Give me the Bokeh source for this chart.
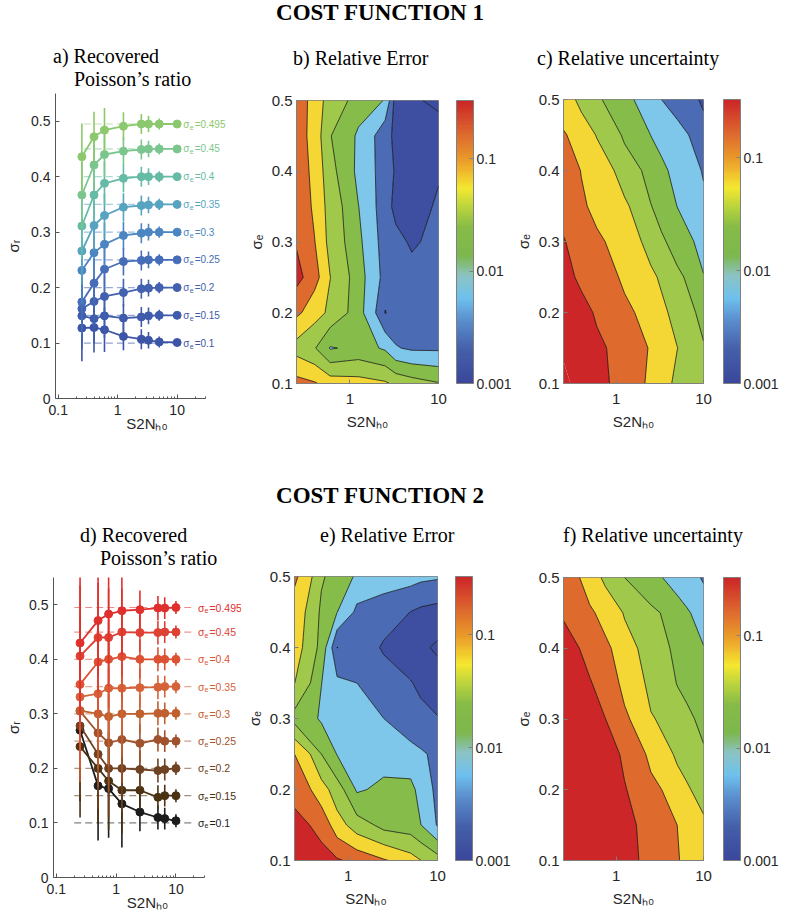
import numpy as np
from bokeh.plotting import figure
from bokeh.models import (ColorBar, LogColorMapper, FixedTicker, Label, Div,
                          Range1d, CustomJSTickFormatter)
from bokeh.layouts import column, row
from bokeh.embed import file_html
from bokeh.resources import INLINE

SANS = "Liberation Sans"
SERIF = "Liberation Serif"
TXT = "#262626"

# ---------------------------------------------------------------- data
sigma_e = [0.1, 0.15, 0.2, 0.25, 0.3, 0.35, 0.4, 0.45, 0.495]
sigma_e_text = ["0.1", "0.15", "0.2", "0.25", "0.3", "0.35", "0.4", "0.45", "0.495"]

s2n_cf1 = [0.25, 0.4, 0.6, 1.25, 2.5, 3.3, 5, 10]
s2n_cf2 = [0.25, 0.5, 0.75, 1.25, 2.5, 5, 6.5, 10]

recovered_cf1 = [
    [0.127, 0.128, 0.124, 0.112, 0.107, 0.105, 0.102, 0.101],
    [0.149, 0.144, 0.149, 0.145, 0.147, 0.149, 0.150, 0.150],
    [0.162, 0.175, 0.184, 0.191, 0.198, 0.199, 0.200, 0.200],
    [0.174, 0.208, 0.233, 0.247, 0.249, 0.250, 0.250, 0.250],
    [0.231, 0.263, 0.278, 0.294, 0.298, 0.300, 0.300, 0.300],
    [0.266, 0.312, 0.330, 0.345, 0.348, 0.349, 0.350, 0.350],
    [0.311, 0.367, 0.388, 0.397, 0.400, 0.400, 0.400, 0.400],
    [0.367, 0.421, 0.440, 0.446, 0.449, 0.450, 0.450, 0.450],
    [0.436, 0.472, 0.484, 0.491, 0.495, 0.495, 0.495, 0.495],
]
err_cf1 = [0.06, 0.045, 0.04, 0.025, 0.018, 0.015, 0.010, 0.005]

recovered_cf2 = [
    [0.270, 0.168, 0.163, 0.135, 0.120, 0.110, 0.108, 0.104],
    [0.240, 0.200, 0.177, 0.160, 0.160, 0.147, 0.150, 0.150],
    [0.278, 0.226, 0.200, 0.200, 0.198, 0.196, 0.198, 0.200],
    [0.305, 0.265, 0.247, 0.253, 0.246, 0.253, 0.250, 0.250],
    [0.306, 0.300, 0.295, 0.300, 0.300, 0.301, 0.301, 0.301],
    [0.331, 0.337, 0.347, 0.347, 0.348, 0.349, 0.350, 0.350],
    [0.354, 0.395, 0.400, 0.405, 0.400, 0.400, 0.400, 0.400],
    [0.406, 0.440, 0.440, 0.450, 0.449, 0.449, 0.450, 0.450],
    [0.430, 0.471, 0.483, 0.489, 0.491, 0.494, 0.494, 0.495],
]
err_cf2 = [0.13, 0.10, 0.09, 0.08, 0.035, 0.022, 0.020, 0.012]

# contour grids: rows = sigma_grid, columns = s2n grid; values = log10(relative value)
sigma_grid = [0.1, 0.15, 0.2, 0.25, 0.3, 0.35, 0.4, 0.45, 0.5]

log_rel_error_cf1 = [
    [-1.00, -1.08, -1.25, -1.30, -1.38, -1.50, -1.60, -1.72],
    [-1.55, -1.72, -2.08, -1.95, -2.10, -2.35, -2.42, -2.42],
    [-1.05, -1.30, -1.50, -1.95, -2.70, -2.55, -2.55, -2.50],
    [-0.70, -1.00, -1.42, -1.95, -2.50, -2.55, -2.60, -2.50],
    [-0.82, -1.10, -1.55, -2.00, -2.55, -2.62, -2.72, -2.58],
    [-0.90, -1.17, -1.58, -2.05, -2.60, -2.75, -2.86, -2.61],
    [-0.95, -1.20, -1.66, -2.15, -2.55, -2.72, -2.88, -2.74],
    [-0.95, -1.26, -1.73, -2.12, -2.60, -2.75, -2.88, -2.78],
    [-0.95, -1.24, -1.60, -1.86, -2.08, -2.85, -2.95, -3.10],
]
log_rel_unc_cf1 = [
    [-0.43, -0.58, -0.71, -0.94, -1.18, -1.31, -1.50, -1.65],
    [-0.51, -0.63, -0.74, -0.94, -1.14, -1.25, -1.42, -1.71],
    [-0.57, -0.71, -0.83, -1.04, -1.27, -1.36, -1.54, -1.86],
    [-0.72, -0.85, -0.96, -1.17, -1.37, -1.47, -1.67, -2.04],
    [-0.78, -0.93, -1.06, -1.28, -1.54, -1.69, -1.89, -2.19],
    [-0.88, -1.07, -1.19, -1.38, -1.73, -1.87, -2.06, -2.30],
    [-0.96, -1.12, -1.27, -1.56, -1.88, -2.00, -2.15, -2.40],
    [-1.08, -1.27, -1.44, -1.80, -2.06, -2.14, -2.26, -2.57],
    [-1.29, -1.51, -1.70, -1.98, -2.25, -2.37, -2.51, -2.74],
]
log_rel_error_cf2 = [
    [-0.55, -0.68, -0.76, -0.90, -1.08, -1.30, -1.42, -1.60],
    [-0.70, -0.90, -1.30, -1.60, -1.85, -1.90, -2.05, -2.40],
    [-0.90, -1.30, -1.60, -2.10, -1.95, -1.95, -2.20, -2.45],
    [-1.11, -1.74, -2.07, -2.25, -2.25, -2.30, -2.33, -2.45],
    [-1.85, -2.10, -2.25, -2.30, -2.37, -2.50, -2.60, -2.67],
    [-1.42, -2.05, -2.30, -2.37, -2.55, -2.67, -2.75, -2.85],
    [-1.30, -1.85, -2.69, -2.55, -2.72, -2.85, -2.95, -3.05],
    [-1.25, -1.80, -2.05, -2.45, -2.55, -2.69, -2.75, -2.80],
    [-1.05, -1.70, -1.90, -2.10, -2.20, -2.25, -2.30, -2.33],
]
log_rel_unc_cf2 = [
    [-0.50, -0.60, -0.66, -0.74, -0.86, -1.09, -1.18, -1.32],
    [-0.52, -0.60, -0.66, -0.74, -0.89, -1.11, -1.20, -1.36],
    [-0.55, -0.60, -0.66, -0.78, -1.02, -1.29, -1.39, -1.57],
    [-0.58, -0.62, -0.69, -0.84, -1.20, -1.48, -1.56, -1.70],
    [-0.60, -0.67, -0.79, -1.06, -1.40, -1.60, -1.68, -1.83],
    [-0.62, -0.77, -0.95, -1.19, -1.52, -1.75, -1.82, -1.94],
    [-0.67, -0.91, -1.04, -1.31, -1.59, -1.82, -1.90, -2.04],
    [-0.83, -1.06, -1.23, -1.45, -1.67, -1.92, -2.02, -2.22],
    [-0.92, -1.28, -1.49, -1.74, -1.98, -2.19, -2.27, -2.40],
]

contour_levels = [-4, -3, -2.685, -2.37, -2.055, -1.74, -1.425, -1.11, -0.795, -0.48, 1]
colorbar_low, colorbar_high = 0.001, 0.33
colorbar_ticks = [0.001, 0.01, 0.1]

# ---------------------------------------------------------------- styles
BAND_COLORS = ["#3C4C9E", "#3E4FA1", "#4B6BB4", "#7EC7EA", "#86BC4A",
               "#A0C84B", "#F4D634", "#DE6B2D", "#CD2629", "#CD2629"]
LINE_ALPHA = [0, 1, 1, 1, 1, 1, 1, 1, 1, 0, 0]
CB_STOPS = [(0.00, "#3B479B"), (0.12, "#4560AA"), (0.22, "#5A8DCC"),
            (0.30, "#6EC1EE"), (0.38, "#8CC3C4"), (0.45, "#7DB84E"),
            (0.55, "#86BB47"), (0.62, "#B8D33E"), (0.69, "#F4E831"),
            (0.76, "#EFB22C"), (0.80, "#E8962A"), (0.88, "#DE6A2E"),
            (1.00, "#CC2528")]
COLORS_CF1 = ["#3D55A6", "#3F5BAB", "#4262B0", "#466DB7", "#4B86C2",
              "#57A4C0", "#66BBA6", "#7BC68E", "#8BC86E"]
COLORS_CF2 = ["#1C1C1C", "#4A3213", "#6E4222", "#A0522D", "#C0602F",
              "#D6623A", "#DD5233", "#DE4034", "#E0302E"]


def build_palette(stops, n=256):
    pos = [s[0] for s in stops]
    rgb = np.array([[int(s[1][i:i + 2], 16) for i in (1, 3, 5)] for s in stops], float)
    out = []
    for t in np.linspace(0, 1, n):
        c = [int(round(np.interp(t, pos, rgb[:, k]))) for k in range(3)]
        out.append("#%02x%02x%02x" % tuple(c))
    return out


CB_PALETTE = build_palette(CB_STOPS)


def add_label(p, x, y, text, size, color, x_offset=0, y_offset=0):
    p.add_layout(Label(x=x, y=y, x_units="data", y_units="data", text=text,
                       text_font=SANS, text_font_size=size, text_color=color,
                       text_align="left", text_baseline="middle",
                       x_offset=x_offset, y_offset=y_offset))


def base_fig(width, height, left, right, top, bottom, xr, yr):
    p = figure(width=width, height=height, x_axis_type="log", x_range=xr, y_range=yr,
               toolbar_location=None, output_backend="svg", title=None,
               min_border_left=left, min_border_right=right,
               min_border_top=top, min_border_bottom=bottom)
    if "frame_align" in p.properties():
        p.frame_align = False
    p.grid.visible = False
    p.background_fill_color = "white"
    p.border_fill_color = "white"
    return p


def style_axes(p, color, size, x_standoff, y_standoff):
    for ax in (p.xaxis[0], p.yaxis[0]):
        ax.axis_line_color = color
        ax.major_tick_line_color = color
        ax.minor_tick_line_color = color
        ax.major_tick_in = 4
        ax.major_tick_out = 0
        ax.minor_tick_in = 2
        ax.minor_tick_out = 0
        ax.major_label_text_font = SANS
        ax.major_label_text_font_size = size
        ax.major_label_text_color = TXT
        ax.axis_label_text_font = SANS
        ax.axis_label_text_font_size = "15px"
        ax.axis_label_text_font_style = "normal"
        ax.axis_label_text_color = TXT
    p.xaxis[0].major_label_standoff = x_standoff
    p.yaxis[0].major_label_standoff = y_standoff


def line_panel(width, height, left, top, bottom, axis_px, s2n, recovered, err,
               colors, dash_x, lab_off, lab_size, ylab_standoff):
    frame_w = width - left
    x_lo, x_hi_axis = 0.09, 30
    decade_px = axis_px / np.log10(x_hi_axis / x_lo)
    x_hi = x_lo * 10 ** (frame_w / decade_px)
    p = base_fig(width, height, left, 0, top, bottom,
                 Range1d(x_lo, x_hi), Range1d(0, 0.55))
    p.outline_line_color = None
    style_axes(p, "#555555", "14px", 6, 5)
    p.xaxis[0].bounds = (x_lo, x_hi_axis)
    p.xaxis[0].ticker = FixedTicker(
        ticks=[0.1, 1, 10],
        minor_ticks=[0.2, 0.3, 0.4, 0.5, 0.6, 0.7, 0.8, 0.9,
                     2, 3, 4, 5, 6, 7, 8, 9, 20, 30])
    p.xaxis[0].formatter = CustomJSTickFormatter(code="return tick.toString()")
    p.xaxis[0].axis_label = "S2N\u2095\u2080"
    p.xaxis[0].axis_label_standoff = -3
    p.yaxis[0].ticker = FixedTicker(ticks=[0, 0.1, 0.2, 0.3, 0.4, 0.5])
    p.yaxis[0].formatter = CustomJSTickFormatter(
        code="return tick == 0 ? '0' : tick.toFixed(1)")
    p.yaxis[0].axis_label = "\u03c3\u1d63"
    p.yaxis[0].axis_label_standoff = ylab_standoff
    e = np.array(err)
    for i, se in enumerate(sigma_e):
        p.line(dash_x, [se, se], line_color=colors[i], line_dash="7 4",
               line_alpha=0.55, line_width=1.2)
    for i, se in enumerate(sigma_e):
        c = colors[i]
        y = np.array(recovered[i])
        p.segment(x0=s2n, y0=y - e, x1=s2n, y1=y + e, line_color=c, line_width=1.6)
        p.line(s2n, y, line_color=c, line_width=1.8)
        p.scatter(s2n, y, size=8, marker="circle", fill_color=c, line_color=c)
        add_label(p, 10, se, "\u03c3", lab_size, c, x_offset=lab_off)
        add_label(p, 10, se, "e", "7px", c, x_offset=lab_off + 6.5, y_offset=-3)
        add_label(p, 10, se, "=" + sigma_e_text[i], lab_size, c,
                  x_offset=lab_off + 11.5)
    return p


def contour_panel(width, height, left, right, top, bottom, s2n, z):
    p = base_fig(width, height, left, right, top, bottom,
                 Range1d(0.25, 10), Range1d(0.1, 0.5))
    p.contour(x=s2n, y=sigma_grid, z=np.array(z), levels=contour_levels,
              fill_color=BAND_COLORS, line_color="black", line_width=0.7,
              line_alpha=LINE_ALPHA)
    p.outline_line_color = "#808080"
    style_axes(p, "#808080", "15px", 10, 4)
    p.xaxis[0].ticker = FixedTicker(ticks=[1, 10], minor_ticks=[])
    p.xaxis[0].formatter = CustomJSTickFormatter(code="return tick.toString()")
    p.xaxis[0].axis_label = "S2N\u2095\u2080"
    p.xaxis[0].axis_label_standoff = 6
    p.yaxis[0].ticker = FixedTicker(ticks=[0.1, 0.2, 0.3, 0.4, 0.5], minor_ticks=[])
    p.yaxis[0].formatter = CustomJSTickFormatter(code="return tick.toFixed(1)")
    p.yaxis[0].axis_label = "\u03c3\u2091"
    p.yaxis[0].axis_label_standoff = 4
    fw = width - left - right
    fh = height - top - bottom
    mapper = LogColorMapper(palette=CB_PALETTE, low=colorbar_low, high=colorbar_high)
    cb = ColorBar(color_mapper=mapper, ticker=FixedTicker(ticks=colorbar_ticks),
                  formatter=CustomJSTickFormatter(code="return tick.toString()"),
                  width=17, height=fh, location=(fw + 18, 0), padding=0, margin=0,
                  bar_line_color="#808080", major_tick_line_color="#808080",
                  major_tick_in=4, major_tick_out=0, minor_tick_line_color=None,
                  label_standoff=3, major_label_text_font=SANS,
                  major_label_text_font_size="14px", major_label_text_color=TXT,
                  border_line_color=None, background_fill_color=None)
    p.add_layout(cb, "center")
    return p


def title_div(width, height, lines):
    html = ('<div style="position:relative;width:%dpx;height:%dpx;'
            'font-family:\'Liberation Serif\';font-size:20px;color:black;">'
            % (width, height))
    for text, left, cy in lines:
        html += ('<div style="position:absolute;left:%dpx;top:%dpx;'
                 'line-height:24px;white-space:nowrap;">%s</div>'
                 % (left, cy - 12, text))
    html += '</div>'
    return Div(text=html, width=width, height=height, margin=(0, 0, 0, 0))


def header(text, height, pad):
    html = ('<div style="width:760px;text-align:center;font-family:\'Liberation Serif\';'
            'font-weight:bold;font-size:23px;line-height:26px;padding-top:%dpx;'
            'color:black;">%s</div>' % (pad, text))
    return Div(text=html, width=771, height=height, margin=(0, 0, 0, 0))


# ---------------------------------------------------------------- panels
W_A, W_B, W_C = 238, 273, 268
W_D, W_E, W_F = 241, 270, 268

pa = line_panel(W_A, 357, 55, 5, 47, 150, s2n_cf1, recovered_cf1, err_cf1,
                COLORS_CF1, [0.27, 10], 6, "10px", 6)
pb = contour_panel(W_B, 357, 58, 73, 12, 62, s2n_cf1, log_rel_error_cf1)
pc = contour_panel(W_C, 357, 50, 76, 11, 62, s2n_cf1, log_rel_unc_cf1)

pd = line_panel(W_D, 350, 53, 10, 40, 151, s2n_cf2, recovered_cf2, err_cf2,
                COLORS_CF2, [0.2, 20], 22, "10.5px", 4)
pe = contour_panel(W_E, 350, 53, 74, 9, 57, s2n_cf2, log_rel_error_cf2)
pf = contour_panel(W_F, 350, 50, 76, 10, 57, s2n_cf2, log_rel_unc_cf2)

titles1 = row(
    title_div(W_A, 58, [("a) Recovered", 53, 26), ("Poisson\u2019s ratio", 74, 49)]),
    title_div(W_B, 58, [("b) Relative Error", 55, 28)]),
    title_div(W_C, 58, [("c) Relative uncertainty", 26, 28)]),
)
titles2 = row(
    title_div(W_D, 52, [("d) Recovered", 80, 20), ("Poisson\u2019s ratio", 100, 43)]),
    title_div(W_E, 52, [("e) Relative Error", 79, 20)]),
    title_div(W_F, 52, [("f) Relative uncertainty", 52, 20)]),
)

layout = column(header("COST FUNCTION 1", 30, 0),
                titles1,
                row(pa, pb, pc),
                header("COST FUNCTION 2", 70, 38),
                titles2,
                row(pd, pe, pf))

open("out.html", "w").write(file_html(layout, INLINE))
